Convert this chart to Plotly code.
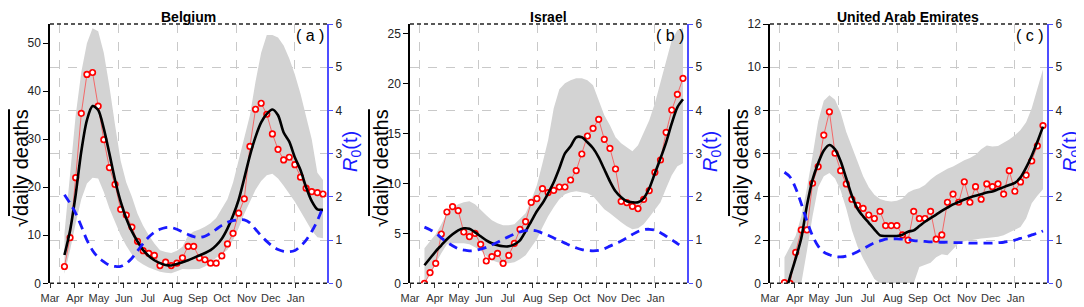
import pandas as pd
import plotly.graph_objects as go

# ---------------- data ----------------
dates = pd.date_range("2020-03-19", periods=47, freq="7D")
month_ticks = pd.date_range("2020-03-01", "2021-01-01", freq="MS")
month_labels = ["Mar", "Apr", "May", "Jun", "Jul", "Aug", "Sep", "Oct", "Nov", "Dec", "Jan"]
grid_dates = ["2020-03-13", "2020-05-25", "2020-08-07", "2020-10-19", "2020-12-31"]
x_range = ["2020-03-01", "2021-02-09"]

titles = ["Belgium", "Israel", "United Arab Emirates"]
tags = ["( a )", "( b )", "( c )"]

# Belgium
be_obs = [3.5, 9.5, 22, 35.4, 43.5, 43.9, 36.9, 29.9, 24.1, 20.6, 15.4, 14.2, 11.7, 8.75, 6.8, 6.25,
          5.8, 3.7, 4.4, 3.7, 4.2, 5.3, 7.7, 7.7, 5.3, 4.9, 4.2, 4.2, 5.7, 8.2, 10.4, 14.6, 17.6,
          28.5, 36.25, 37.5, 35.2, 31.1, 27.9, 25.7, 26.25, 24.7, 22.1, 19.8, 19.1, 18.9, 18.6]
be_fit = [5.9, 11, 18.5, 27.5, 34, 36.9, 36.1, 32.2, 27, 21.5, 17, 13.5, 10.8, 8.7, 6.9, 5.7,
          4.8, 4.2, 3.8, 3.7, 4.0, 4.4, 4.8, 5.3, 5.8, 6.3, 6.9, 7.9, 9.3, 11.4, 14.1, 17.4, 21.9,
          26.6, 30.5, 33.5, 35.3, 36.2, 35.0, 31.4, 29.5, 26.2, 23.6, 20, 17.1, 15.4, 15.3]
be_up = [10.4, 22, 35, 44, 50, 53.1, 52.5, 48, 41, 33, 25.5, 21, 18, 14.5, 12, 10, 8.3, 6.9,
         6.5, 6.3, 6.8, 7.6, 10.0, 10.8, 11.2, 11.8, 12.5, 13.6, 15.5, 17.5, 21, 25.5, 30, 35,
         42, 48, 51.7, 51.7, 51.2, 49.5, 46.8, 43.5, 39.5, 35, 30, 23, 21.5]
be_lo = [2.0, 6.9, 12.5, 17.5, 20.8, 22, 21.8, 19, 15.6, 12.6, 10, 7.8, 6, 4.7, 3.9, 3.3, 2.8,
         2.4, 2.2, 2.1, 2.5, 3.0, 2.9, 2.9, 3.0, 3.5, 4.3, 5.3, 6.0, 7.0, 9, 11.5, 14.5, 17, 19.5,
         21.3, 22.5, 22.8, 21.8, 20.3, 18.6, 17, 15, 13, 11, 9.6, 9.4]
be_r0 = [2.05, 1.85, 1.62, 1.32, 1.0, 0.76, 0.6, 0.5, 0.42, 0.39, 0.39, 0.46, 0.58, 0.75, 0.92,
         1.07, 1.18, 1.25, 1.29, 1.29, 1.25, 1.19, 1.13, 1.08, 1.06, 1.09, 1.16, 1.25, 1.34, 1.41,
         1.45, 1.47, 1.47, 1.40, 1.25, 1.10, 0.97, 0.86, 0.78, 0.74, 0.73, 0.76, 0.86, 1.0, 1.2,
         1.45, 1.77]

# Israel
il_obs = [0, 1.07, 2.0, 4.93, 7.13, 7.67, 7.27, 5.13, 4.67, 5.0, 3.9, 2.23, 2.67, 3.0, 2.0, 2.8,
          4.0, 5.4, 6.17, 8.1, 8.47, 9.47, 9.07, 9.3, 9.63, 9.63, 10.33, 11.27, 12.93, 14.73, 15.5,
          16.4, 14.4, 13.5, 11.43, 8.2, 8.07, 7.7, 7.47, 8.4, 9.27, 11.1, 12.33, 15.1, 17.33,
          18.9, 20.5]
il_fit = [1.8, 2.5, 3.2, 3.8, 4.4, 4.9, 5.3, 5.5, 5.45, 5.1, 4.7, 4.3, 4.0, 3.8, 3.7, 3.7, 3.9,
          4.3, 5.2, 6.2, 7.2, 8.0, 9.0, 10.1, 11.5, 13.0, 13.7, 14.6, 14.6, 14.1, 13.5, 12.6, 11.4,
          10.2, 9.2, 8.6, 8.2, 8.1, 8.1, 8.5, 9.5, 11.0, 12.5, 14.1, 16.0, 17.6, 18.4]
il_up = [3.5, 4.2, 4.9, 5.9, 7.0, 7.5, 7.9, 8.1, 8.2, 7.9, 7.3, 6.8, 6.3, 6.0, 5.8, 5.8, 5.9,
         6.4, 7.0, 8.3, 9.8, 12.0, 14.3, 17.5, 19.4, 20.0, 20.3, 20.5, 20.5, 20.3, 19.8, 18.3,
         16.8, 15.8, 14.6, 14.0, 13.6, 13.2, 13.8, 15.0, 16.3, 18.0, 20.2, 22.3, 24.3, 25.3, 25.5]
il_lo = [0.0, 1.0, 2.1, 3.0, 3.9, 4.0, 4.0, 4.0, 3.9, 3.6, 3.3, 2.7, 2.3, 2.1, 2.0, 2.0, 2.1,
         2.4, 2.8, 3.6, 4.4, 5.6, 6.7, 7.6, 8.4, 8.9, 9.1, 9.2, 9.1, 9.0, 8.7, 8.1, 7.4, 7.0, 6.5,
         6.1, 5.7, 5.4, 5.5, 5.9, 6.6, 7.3, 8.1, 9.5, 10.8, 11.7, 12.0]
il_r0 = [1.30, 1.24, 1.16, 1.05, 0.95, 0.87, 0.80, 0.77, 0.75, 0.76, 0.79, 0.83, 0.89, 0.95,
         1.02, 1.08, 1.14, 1.19, 1.22, 1.23, 1.21, 1.16, 1.11, 1.05, 0.99, 0.93, 0.87, 0.82, 0.78,
         0.76, 0.75, 0.76, 0.80, 0.86, 0.92, 0.98, 1.05, 1.13, 1.20, 1.24, 1.25, 1.23, 1.17, 1.09,
         1.01, 0.92, 0.83]

# United Arab Emirates
ae_obs = [0.03, 0, 1.43, 2.47, 2.47, 4.63, 5.4, 6.86, 7.94, 6.02, 5.21, 4.6, 3.89, 3.61, 3.47,
          3.16, 3.0, 3.33, 2.67, 2.67, 2.67, 2.24, 2.0, 3.33, 3.0, 3.0, 3.33, 2.04, 2.24, 3.75,
          4.13, 3.75, 4.7, 3.75, 4.47, 3.89, 4.6, 4.47, 4.6, 4.13, 5.21, 4.26, 4.69, 5.01, 5.66,
          6.36, 7.3]
ae_fit = [-0.6, 0.3, 1.15, 2.1, 3.6, 4.8, 5.56, 6.15, 6.4, 6.2, 5.65, 4.85, 4.05, 3.45, 3.1, 2.8,
          2.5, 2.22, 2.19, 2.19, 2.19, 2.25, 2.39, 2.45, 2.65, 2.85, 3.02, 3.18, 3.35, 3.5, 3.65,
          3.76, 3.88, 3.97, 4.05, 4.12, 4.2, 4.25, 4.35, 4.45, 4.55, 4.65, 4.9, 5.35, 5.9, 6.55,
          7.25]
ae_up = [1.2, 1.7, 2.2, 3.1, 4.4, 5.9, 7.5, 8.45, 8.7, 8.5, 7.9, 7.0, 6.3, 5.6, 4.95, 4.45, 4.1,
         3.9, 3.82, 3.78, 3.82, 3.93, 4.2, 4.33, 4.4, 4.55, 4.8, 5.0, 5.15, 5.3, 5.4, 5.55, 5.7,
         5.8, 5.95, 6.2, 6.38, 6.33, 6.35, 6.5, 6.65, 6.85, 7.1, 7.45, 8.1, 9.0, 9.9]
ae_lo = [0, 0, 0, 0, 1.5, 3.1, 4.45, 4.95, 5.1, 4.85, 4.3, 3.45, 2.45, 1.7, 1.15, 0.65, 0.2, 0,
         0, 0, 0, 0, 0, 0, 0.75, 0.85, 0.95, 1.2, 1.35, 1.3, 1.6, 1.85, 1.95, 2.0, 2.05, 2.07,
         2.1, 2.12, 2.15, 2.22, 2.35, 2.5, 2.6, 3.0, 3.7, 4.05, 4.35]
ae_r0 = [2.57, 2.46, 2.2, 1.84, 1.44, 1.1, 0.86, 0.72, 0.66, 0.62, 0.61, 0.63, 0.67, 0.73, 0.8,
         0.87, 0.94, 0.98, 1.02, 1.03, 1.03, 1.02, 1.01, 0.99, 0.98, 0.97, 0.96, 0.96, 0.95, 0.95,
         0.94, 0.94, 0.94, 0.93, 0.93, 0.93, 0.93, 0.93, 0.94, 0.95, 0.97, 1.0, 1.04, 1.07, 1.12,
         1.16, 1.21]

left_ranges = [[0, 54], [0, 25.93], [0, 12]]
left_dticks = [10, 5, 2]
r0_range = [0, 6]

panels = [
    (be_obs, be_fit, be_up, be_lo, be_r0),
    (il_obs, il_fit, il_up, il_lo, il_r0),
    (ae_obs, ae_fit, ae_up, ae_lo, ae_r0),
]

# ---------------- layout geometry ----------------
# the page body has an 8px default margin, so positions are measured from the page and shifted
W, H = 1084, 307
OFF = 8
panel_px = [(50, 327), (410, 687), (770, 1047)]
x_domains = [[(a - OFF) / W, (b - OFF) / W] for a, b in panel_px]
y_domain = [1 - (283.3 - OFF) / H, 1 - (24 - OFF) / H]

BAND = "#d3d3d3"
RED = "#ff0000"
REDLINE = "#f26868"
BLUE = "#1a1aff"
AXBLUE = "#4d4dff"
GRID = "#c9c9c9"
TICKFONT = dict(family="Liberation Sans Narrow, Liberation Sans, Arial", size=12, color="#222")
MONTHFONT = dict(family="Liberation Sans Narrow, Liberation Sans, Arial", size=11, color="#333")

fig = go.Figure()
layout = dict(
    width=W, height=H, margin=dict(l=0, r=0, t=0, b=0, autoexpand=False),
    paper_bgcolor="white", plot_bgcolor="white", showlegend=False,
    annotations=[], shapes=[],
)

for k, (obs, fit, up, lo, r0) in enumerate(panels):
    i = k + 1
    j = k + 4
    xa, ya = f"x{i}" if i > 1 else "x", f"y{i}" if i > 1 else "y"
    xb, yb = f"x{j}", f"y{j}"

    # band
    fig.add_trace(go.Scatter(x=dates, y=lo, mode="lines", line=dict(width=0, color=BAND),
                             xaxis=xa, yaxis=ya, hoverinfo="skip"))
    fig.add_trace(go.Scatter(x=dates, y=up, mode="lines", line=dict(width=0, color=BAND),
                             fill="tonexty", fillcolor=BAND, xaxis=xa, yaxis=ya, hoverinfo="skip"))
    # observed
    fig.add_trace(go.Scatter(x=dates, y=obs, mode="lines+markers",
                             line=dict(color=REDLINE, width=1),
                             marker=dict(symbol="circle", size=5.5, color="white",
                                         line=dict(color=RED, width=1.7)),
                             xaxis=xa, yaxis=ya))
    # fit
    fig.add_trace(go.Scatter(x=dates, y=fit, mode="lines",
                             line=dict(color="black", width=2.6, shape="spline", smoothing=0.8),
                             xaxis=xa, yaxis=ya))
    # R0
    fig.add_trace(go.Scatter(x=dates, y=r0, mode="lines",
                             line=dict(color=BLUE, width=2.8, dash="9px,6px", shape="spline"),
                             xaxis=xb, yaxis=yb))

    xkey_a = "xaxis" if i == 1 else f"xaxis{i}"
    ykey_a = "yaxis" if i == 1 else f"yaxis{i}"
    layout[xkey_a] = dict(
        domain=x_domains[k], anchor=ya, type="date", range=x_range, automargin=False,
        tickmode="array", tickvals=list(month_ticks), ticktext=month_labels,
        ticks="outside", ticklen=4, tickcolor="#333", tickwidth=1,
        showgrid=False, showline=False, zeroline=False, tickfont=MONTHFONT,
    )
    layout[ykey_a] = dict(
        domain=y_domain, anchor=xa, range=left_ranges[k], dtick=left_dticks[k], tick0=0,
        automargin=False,
        showline=True, linecolor="black", linewidth=1.5, ticks="outside", ticklen=5,
        tickcolor="black", showgrid=False, zeroline=False, tickfont=TICKFONT,
    )
    layout[f"xaxis{j}"] = dict(
        overlaying=xa, anchor=yb, type="date", range=x_range, automargin=False,
        tickmode="array", tickvals=grid_dates, showticklabels=False, ticks="",
        showgrid=True, gridcolor=GRID, griddash="dash", gridwidth=1,
        showline=False, zeroline=False,
    )
    layout[f"yaxis{j}"] = dict(
        overlaying=ya, anchor=xb, side="right", range=r0_range, dtick=1, tick0=0,
        automargin=False,
        showline=True, linecolor=AXBLUE, linewidth=2, ticks="outside", ticklen=4,
        tickcolor=AXBLUE, showgrid=True, gridcolor=GRID, griddash="dash", gridwidth=1,
        zeroline=False, tickfont=TICKFONT,
    )

    dom_x = f"{xa} domain"
    dom_y = f"{ya} domain"
    for yy in (0, 1):
        layout["shapes"].append(dict(type="line", xref=dom_x, yref=dom_y, x0=0, x1=1, y0=yy, y1=yy,
                                     line=dict(color="#222", width=1.5, dash="4px,3px"), layer="above"))

    cx = (x_domains[k][0] + x_domains[k][1]) / 2
    left_px = panel_px[k][0] - OFF
    right_px = panel_px[k][1] - OFF
    layout["annotations"] += [
        dict(text=f"<b>{titles[k]}</b>", xref="paper", yref="paper", x=cx, y=1.0,
             showarrow=False, xanchor="center", yanchor="top", yshift=1,
             font=dict(family="Liberation Sans, Arial", size=14, color="black")),
        dict(text=tags[k], xref=dom_x, yref=dom_y, x=1.0, y=1.0, showarrow=False,
             xanchor="right", yanchor="top", xshift=-1, yshift=-1,
             font=dict(family="Liberation Sans, Arial", size=16, color="black")),
        dict(text="√<span style='text-decoration:overline'>daily deaths</span>",
             xref="paper", yref="paper", x=(left_px - 29) / W, y=1 - (168 - OFF) / H,
             textangle=-90, showarrow=False, xanchor="center", yanchor="middle",
             font=dict(family="Liberation Sans, Arial", size=20, color="black")),
        dict(text="<i>R</i><sub>0</sub>(t)", xref="paper", yref="paper",
             x=(right_px + 24) / W, y=1 - (152 - OFF) / H,
             textangle=-90, showarrow=False, xanchor="center", yanchor="middle",
             font=dict(family="Liberation Sans, Arial", size=20, color=BLUE)),
    ]

fig.update_layout(**layout)
fig.write_html("out.html")
